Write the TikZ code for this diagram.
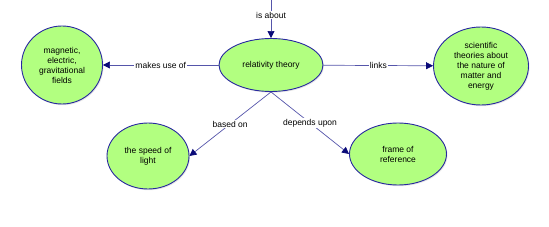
\documentclass[tikz,border=0pt]{standalone}
\usepackage{fontspec}
\setmainfont{Liberation Sans}
\usetikzlibrary{arrows.meta,shapes.geometric,shadows}
\definecolor{conceptfill}{RGB}{178,255,128}
\definecolor{conceptdraw}{RGB}{40,40,160}
\definecolor{linkline}{RGB}{85,85,170}
\definecolor{linktip}{RGB}{10,10,120}
\begin{document}
\begin{tikzpicture}[x=1pt,y=-1pt,concept/.style={ellipse,draw=conceptdraw,line width=0.9pt,fill=conceptfill,align=center,inner sep=0pt,font=\fontsize{8.5}{10}\selectfont,drop shadow={opacity=0.2,shadow xshift=1pt,shadow yshift=-1.2pt}},linklabel/.style={fill=white,inner sep=1pt,font=\fontsize{8.5}{10}\selectfont},arrow/.style={-{Triangle[length=7pt,width=7pt,color=linktip]},line width=0.7pt,draw=linkline}]
\useasboundingbox (0,0) rectangle (549,227);
\node[concept,minimum width=104pt,minimum height=53pt] (rel) at (271,65) {relativity theory};
\node[concept,minimum width=81pt,minimum height=78pt] (fields) at (62,65) {magnetic,\\electric,\\gravitational\\fields};
\node[concept,minimum width=95pt,minimum height=78pt] (theories) at (481,66) {scientific\\theories about\\the nature of\\matter and\\energy};
\node[concept,minimum width=82pt,minimum height=66pt] (speed) at (148,156) {the speed of\\light};
\node[concept,minimum width=97pt,minimum height=62pt] (frame) at (398,154) {frame of\\reference};
\coordinate (top) at (271,0);
\draw[arrow] (top) -- node[linklabel,pos=0.4] {is about} (rel);
\draw[arrow] (rel) -- node[linklabel] {makes use of} (fields);
\draw[arrow] (rel) -- node[linklabel] {links} (theories);
\draw[arrow] (rel.south) -- node[linklabel] {based on} (speed.east);
\draw[arrow] (rel.south) -- node[linklabel] {depends upon} (frame.west);
\end{tikzpicture}
\end{document}
